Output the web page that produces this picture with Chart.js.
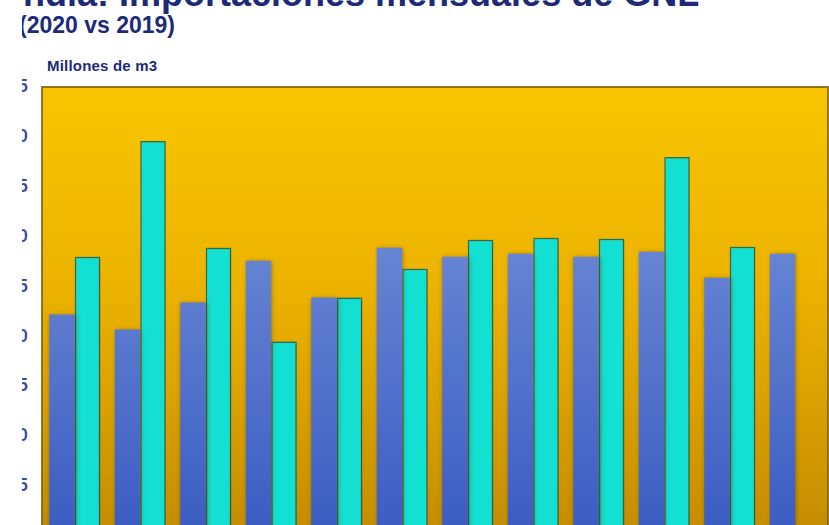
<!DOCTYPE html>
<html lang="es">
<head>
    <meta charset="UTF-8">
    <title>India: Importaciones mensuales de GNL</title>
    <script src="https://cdn.jsdelivr.net/npm/chart.js"></script>
    <style>
        body {
            margin: 0;
            background: #ffffff;
            font-family: "Liberation Sans", Arial, sans-serif;
        }
        #clip {
            position: absolute;
            left: 22px;
            top: 0;
            width: 807px;
            height: 525px;
            overflow: hidden;
        }
        .txt {
            position: absolute;
            white-space: nowrap;
            color: #1c2a78;
            font-weight: bold;
        }
        #title { left: -9px; top: -24px; font-size: 36px; line-height: 36px; }
        #subtitle { left: -3px; top: 14px; font-size: 23px; line-height: 23px; }
        #unit { left: 25px; top: 58px; font-size: 15px; line-height: 15px; letter-spacing: 0.2px; }
        #wrap {
            position: absolute;
            left: -22px;
            top: 60px;
            width: 829px;
            height: 501px;
        }
    </style>
</head>
<body>
    <div id="clip">
        <div class="txt" id="title">India: Importaciones mensuales de GNL</div>
        <div class="txt" id="subtitle">(2020 vs 2019)</div>
        <div class="txt" id="unit">Millones de m3</div>
        <div id="wrap"><canvas id="gnlChart"></canvas></div>
    </div>

    <script>
        // Datos (millones de m3)
        const meses = ['Ene', 'Feb', 'Mar', 'Abr', 'May', 'Jun', 'Jul', 'Ago', 'Sep', 'Oct', 'Nov', 'Dic'];
        const serie2019 = [2.22, 2.07, 2.34, 2.76, 2.39, 2.89, 2.80, 2.83, 2.80, 2.85, 2.59, 2.83];
        const serie2020 = [2.80, 3.96, 2.89, 1.95, 2.39, 2.68, 2.97, 2.99, 2.98, 3.80, 2.90, null];
        const ejeMin = 0;
        const ejeMax = 4.5;
        const ejePaso = 0.5;

        // Fondo dorado con degradado y marco
        const fondoPlugin = {
            id: 'fondo',
            beforeDatasetsDraw(chart) {
                const { ctx, chartArea: a } = chart;
                const g = ctx.createLinearGradient(0, a.top, 0, a.bottom);
                g.addColorStop(0, '#f9c600');
                g.addColorStop(0.45, '#ecb200');
                g.addColorStop(1, '#c48c00');
                ctx.save();
                ctx.fillStyle = g;
                ctx.fillRect(a.left, a.top, a.right - a.left, a.bottom - a.top);
                ctx.strokeStyle = 'rgba(120, 90, 10, 0.8)';
                ctx.lineWidth = 2;
                ctx.strokeRect(a.left, a.top, a.right - a.left, a.bottom - a.top);
                ctx.restore();
                // sombra suave de las barras
                ctx.save();
                ctx.shadowColor = 'rgba(60, 40, 0, 0.45)';
                ctx.shadowBlur = 5;
                ctx.shadowOffsetX = 1;
            },
            afterDatasetsDraw(chart) {
                chart.ctx.restore();
            }
        };

        function azul(context) {
            const { ctx, chartArea } = context.chart;
            if (!chartArea) return '#4a6ac8';
            const g = ctx.createLinearGradient(0, chartArea.top + 150, 0, chartArea.bottom);
            g.addColorStop(0, '#6886d4');
            g.addColorStop(1, '#3a5cc2');
            return g;
        }

        const gnlCtx = document.getElementById('gnlChart').getContext('2d');
        const gnlChart = new Chart(gnlCtx, {
            type: 'bar',
            data: {
                labels: meses,
                datasets: [{
                    label: '2019',
                    data: serie2019,
                    backgroundColor: azul,
                    borderWidth: 0,
                    categoryPercentage: 0.78,
                    barPercentage: 1.0,
                }, {
                    label: '2020',
                    data: serie2020,
                    backgroundColor: '#12e0d2',
                    borderColor: '#237a6c',
                    borderWidth: 1.5,
                    categoryPercentage: 0.78,
                    barPercentage: 1.0,
                }]
            },
            options: {
                responsive: true,
                maintainAspectRatio: false,
                animation: false,
                layout: {
                    padding: { top: 27, bottom: 2, left: 0, right: 1 }
                },
                plugins: {
                    legend: { display: false },
                    tooltip: { enabled: false },
                },
                scales: {
                    x: {
                        display: false,
                    },
                    y: {
                        min: ejeMin,
                        max: ejeMax,
                        afterFit(axis) { axis.width = 42; },
                        grid: { display: false, drawTicks: false },
                        border: { display: false },
                        ticks: {
                            stepSize: ejePaso,
                            padding: 14,
                            color: '#3b52a4',
                            font: { family: 'Liberation Sans', size: 18, weight: 'bold' },
                            callback: v => v.toFixed(1).replace('.', ','),
                        },
                    },
                },
            },
            plugins: [fondoPlugin]
        });
    </script>
</body>
</html>
